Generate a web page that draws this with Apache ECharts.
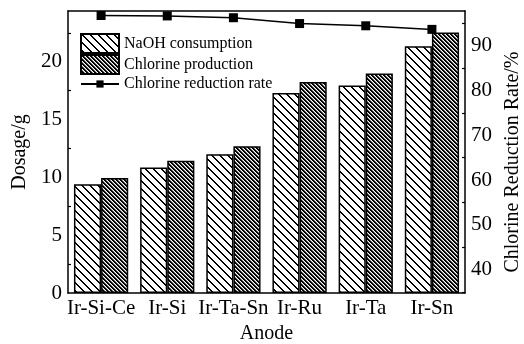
<!DOCTYPE html>
<html>
<head>
<meta charset="utf-8">
<script src="https://cdn.jsdelivr.net/npm/echarts@6/dist/echarts.min.js"></script>
<style>
  html, body { margin: 0; padding: 0; background: #fff; }
  #chart { width: 524px; height: 344px; }
</style>
</head>
<body>
<div id="chart"></div>
<script>
// Anode materials and measured quantities
const anodes = ['Ir-Si-Ce', 'Ir-Si', 'Ir-Ta-Sn', 'Ir-Ru', 'Ir-Ta', 'Ir-Sn'];
const naohConsumption = [9.4, 10.85, 12.0, 17.3, 17.95, 21.35];
const chlorineProduction = [9.95, 11.45, 12.7, 18.25, 19.0, 22.55];
const chlorineReductionRate = [96.7, 96.6, 96.2, 94.9, 94.4, 93.6];

const FONT = "'Liberation Serif', 'Times New Roman', serif";

// Diagonal hatch tile: stripes running top-left to bottom-right.
// shades lists the grey level of each pixel step across one period.
function hatch(shades) {
  const period = shades.length;
  const c = document.createElement('canvas');
  c.width = period; c.height = period;
  const ctx = c.getContext('2d');
  const img = ctx.createImageData(period, period);
  for (let y = 0; y < period; y++) {
    for (let x = 0; x < period; x++) {
      const k = (((x - y) % period) + period) % period;
      const v = shades[k];
      const i = (y * period + x) * 4;
      img.data[i] = v; img.data[i + 1] = v; img.data[i + 2] = v; img.data[i + 3] = 255;
    }
  }
  ctx.putImageData(img, 0, 0);
  return { image: c, repeat: 'repeat' };
}

const chart = echarts.init(document.getElementById('chart'), null, { renderer: 'canvas' });

const tickCommon = { inside: true, length: 5, lineStyle: { color: '#000', width: 1.2 } };
const minorCommon = { show: true, splitNumber: 2, length: 3, lineStyle: { color: '#000', width: 1.2 } };
const legendText = { fontFamily: FONT, fontSize: 16, color: '#000' };

chart.setOption({
  animation: false,
  backgroundColor: '#fff',
  grid: { left: 68, right: 59, top: 11, bottom: 51, outerBoundsMode: 'none', containLabel: false },
  legend: [
    {
      orient: 'vertical',
      left: 80, top: 33, padding: 0,
      itemWidth: 38, itemHeight: 19, itemGap: 0,
      icon: 'rect',
      textStyle: legendText,
      data: ['NaOH consumption', 'Chlorine production']
    },
    {
      orient: 'vertical',
      left: 80, top: 76, padding: 0,
      itemWidth: 38, itemHeight: 9, itemGap: 0,
      textStyle: legendText,
      data: ['Chlorine reduction rate']
    }
  ],
  xAxis: [
    {
      type: 'category',
      data: anodes,
      position: 'bottom',
      name: 'Anode',
      nameLocation: 'middle',
      nameGap: 30,
      nameTextStyle: { fontFamily: FONT, fontSize: 20, color: '#000' },
      axisLine: { lineStyle: { color: '#000', width: 1.5 } },
      axisTick: tickCommon,
      axisLabel: { fontFamily: FONT, fontSize: 21, color: '#000', margin: 5, interval: 0 }
    },
    {
      type: 'category',
      data: anodes,
      position: 'top',
      axisLine: { lineStyle: { color: '#000', width: 1.5 } },
      axisTick: tickCommon,
      axisLabel: { show: false }
    }
  ],
  yAxis: [
    {
      type: 'value',
      min: 0, max: 24.4,
      splitNumber: 5,
      position: 'left',
      name: 'Dosage/g',
      nameLocation: 'middle',
      nameGap: 34,
      nameTextStyle: { fontFamily: FONT, fontSize: 20, color: '#000' },
      axisLine: { show: true, lineStyle: { color: '#000', width: 1.5 } },
      axisTick: tickCommon,
      minorTick: minorCommon,
      splitLine: { show: false },
      axisLabel: { fontFamily: FONT, fontSize: 21, color: '#000', margin: 6, showMaxLabel: false }
    },
    {
      type: 'value',
      min: 34.8, max: 97.7,
      splitNumber: 6,
      position: 'right',
      name: 'Chlorine Reduction Rate/%',
      nameLocation: 'middle',
      nameGap: 36,
      nameTextStyle: { fontFamily: FONT, fontSize: 20, color: '#000', padding: [0, 20, 0, 0] },
      axisLine: { show: true, lineStyle: { color: '#000', width: 1.5 } },
      axisTick: tickCommon,
      minorTick: minorCommon,
      splitLine: { show: false },
      axisLabel: { fontFamily: FONT, fontSize: 21, color: '#000', margin: 6, showMinLabel: false, showMaxLabel: false }
    }
  ],
  series: [
    {
      name: 'NaOH consumption',
      type: 'bar',
      data: naohConsumption,
      barGap: '0%',
      barCategoryGap: '18%',
      itemStyle: { color: hatch([0, 0, 255, 255, 255, 255, 255, 255]), borderColor: '#000', borderWidth: 1.5 }
    },
    {
      name: 'Chlorine production',
      type: 'bar',
      data: chlorineProduction,
      barGap: '0%',
      barCategoryGap: '18%',
      itemStyle: { color: hatch([0, 0, 140, 255]), borderColor: '#000', borderWidth: 1.5 }
    },
    {
      name: 'Chlorine reduction rate',
      type: 'line',
      yAxisIndex: 1,
      data: chlorineReductionRate,
      symbol: 'rect',
      symbolSize: 9,
      lineStyle: { color: '#000', width: 1.5 },
      itemStyle: { color: '#000' },
      z: 5
    }
  ]
});
</script>
</body>
</html>
